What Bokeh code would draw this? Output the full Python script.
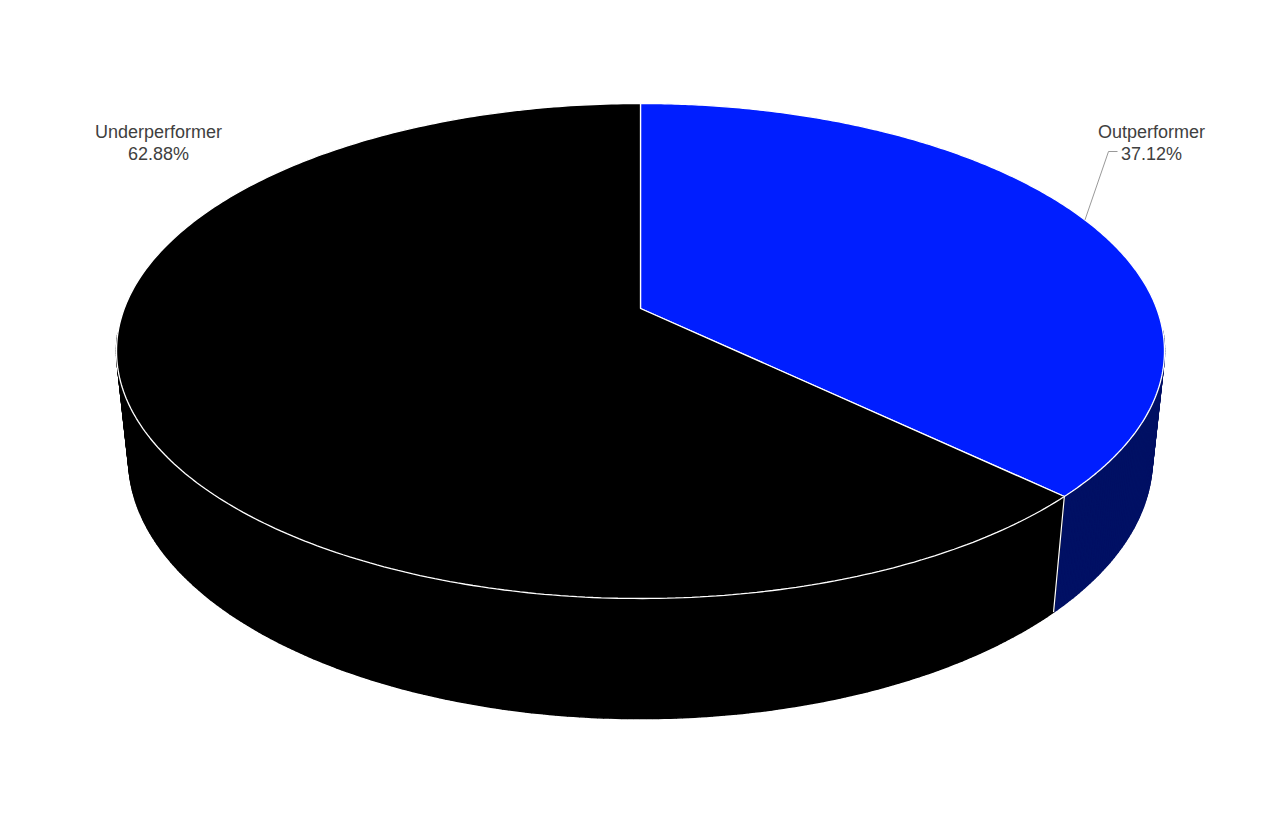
import numpy as np
from bokeh.plotting import figure
from bokeh.models import Range1d
from bokeh.core.properties import value
from bokeh.embed import file_html
from bokeh.resources import INLINE

# data
categories = ["Outperformer", "Underperformer"]
shares = [37.12, 62.88]
top_colors = ["#001EFF", "#000000"]
side_colors = ["#001064", "#000000"]
pct_labels = ["37.12%", "62.88%"]

# 3d projection settings (pixel space)
cx, cy = 640, 308
A, B = 516.2, 240.2      # horizontal / depth scale of the top disk
c = 0.1717               # perspective strength
E, g = 108.9, 0.023      # height of the cylinder and its convergence


def proj(alpha, r=1.0, level=0.0):
    # alpha: clockwise angle from 12 o'clock (radians)
    X = r * np.sin(alpha)
    Z = -r * np.cos(alpha)
    w = 1 - c * Z + g * level
    return cx + A * X / w, cy + (B * Z + E * level) / w


p = figure(width=1264, height=819, output_backend="svg", toolbar_location=None,
           x_range=Range1d(0, 1264), y_range=Range1d(819, 0), min_border=0)
p.axis.visible = False
p.grid.visible = False
p.outline_line_color = None
p.background_fill_color = "white"
p.border_fill_color = "white"

total = sum(shares)
starts = np.cumsum([0] + shares[:-1]) / total * 2 * np.pi
ends = np.cumsum(shares) / total * 2 * np.pi

# side walls, only the part facing the viewer, drawn as thin quads
for a0, a1, col in zip(starts, ends, side_colors):
    n = max(int((a1 - a0) / 0.01), 2)
    t = np.linspace(a0, a1, n + 1)
    tx, ty = proj(t)
    bx, by = proj(t, level=1.0)
    front = -np.cos(t) > 0.1
    xs, ys = [], []
    for i in range(n):
        if front[i] or front[i + 1]:
            xs.append([tx[i], tx[i + 1], bx[i + 1], bx[i]])
            ys.append([ty[i], ty[i + 1], by[i + 1], by[i]])
    if xs:
        p.patches(xs, ys, fill_color=col, line_color=col, line_width=1.5)

# vertical edges between slices on the front
for a in ends:
    if -np.cos(a) > 0.2:
        tx, ty = proj(a)
        bx, by = proj(a, level=1.0)
        p.line([tx, bx], [ty, by], line_color="white", line_width=1.2)

# top faces
for a0, a1, col in zip(starts, ends, top_colors):
    t = np.linspace(a0, a1, 300)
    tx, ty = proj(t)
    xs = [cx] + list(tx) + [cx]
    ys = [cy] + list(ty) + [cy]
    p.patch(xs, ys, fill_color=col, line_color="white", line_width=1.3)

# labels
label_x = [1151, 158]
name_y = [131, 131]
pct_y = [153, 153]
for i in range(len(categories)):
    p.text([label_x[i]], [name_y[i]], text=[categories[i]], text_align="center",
           text_baseline="alphabetic", text_font=value("Liberation Sans"),
           text_font_size="18px", text_color="#404040")
    p.text([label_x[i]], [pct_y[i]], text=[pct_labels[i]], text_align="center",
           text_baseline="alphabetic", text_font=value("Liberation Sans"),
           text_font_size="18px", text_color="#404040")

# leader line for the outperformer slice
mid = (starts[0] + ends[0]) / 2
mx, my = proj(mid)
p.line([mx, label_x[0] - 43, label_x[0] - 34], [my, pct_y[0] - 2, pct_y[0] - 2],
       line_color="#999999", line_width=1)

open("out.html", "w").write(file_html(p, INLINE))
